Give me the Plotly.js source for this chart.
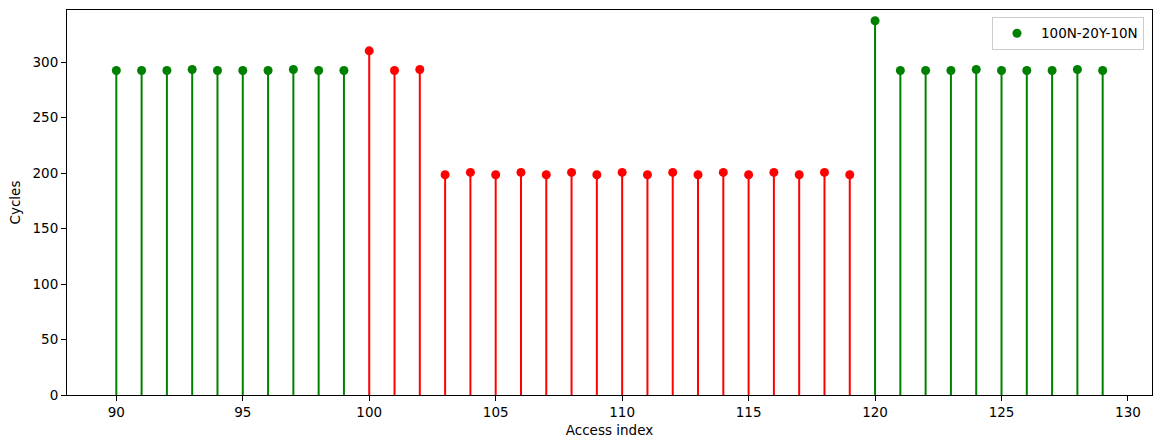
<!DOCTYPE html>
<html>
<head>
<meta charset="utf-8">
<script src="https://cdn.plot.ly/plotly-3.0.1.min.js"></script>
<style>html,body{margin:0;padding:0;background:#fff;}#chart{width:1160px;height:448px;}</style>
</head>
<body>
<div id="chart"></div>
<script>
const accessIndex = [];
for (let i = 90; i <= 129; i++) accessIndex.push(i);

const cycles = [
  292.5, 292.5, 292.5, 293.4, 292.5, 292.5, 292.5, 293.4, 292.5, 292.5,
  310.2, 292.5, 293.4,
  198.5, 200.6, 198.5, 200.6, 198.5, 200.6, 198.5, 200.6, 198.5,
  200.6, 198.5, 200.6, 198.5, 200.6, 198.5, 200.6, 198.5,
  337.3, 292.5, 292.5, 292.5, 293.4, 292.5, 292.5, 292.5, 293.4, 292.5
];

const hitFlags = [
  'N','N','N','N','N','N','N','N','N','N',
  'Y','Y','Y','Y','Y','Y','Y','Y','Y','Y',
  'Y','Y','Y','Y','Y','Y','Y','Y','Y','Y',
  'N','N','N','N','N','N','N','N','N','N'
];

const seriesName = '100N-20Y-10N';
const GREEN = '#008000', RED = '#ff0000';
const colors = hitFlags.map(f => (f === 'Y' ? RED : GREEN));

function stemTrace(flag, color) {
  const xs = [], ys = [];
  accessIndex.forEach((x, i) => {
    if (hitFlags[i] === flag) { xs.push(x, x, null); ys.push(0, cycles[i], null); }
  });
  return {type: 'scatter', mode: 'lines', x: xs, y: ys, line: {color: color, width: 2},
          showlegend: false, hoverinfo: 'skip', connectgaps: false};
}

const heads = {
  type: 'scatter', mode: 'markers', x: accessIndex, y: cycles,
  marker: {color: colors, size: 9}, name: seriesName, showlegend: false
};
const legendEntry = {
  type: 'scatter', mode: 'markers', x: [null], y: [null],
  marker: {color: GREEN, size: 9}, name: seriesName, showlegend: true
};

const font = {family: 'DejaVu Sans', size: 13.5, color: '#000'};
const layout = {
  width: 1160, height: 448,
  margin: {l: 67, r: 8, t: 10, b: 53},
  paper_bgcolor: '#fff', plot_bgcolor: '#fff',
  font: font,
  xaxis: {
    range: [88.05, 130.95], tickvals: [90,95,100,105,110,115,120,125,130],
    ticks: 'outside', ticklen: 5, tickcolor: '#000', showline: true, mirror: true,
    linecolor: '#000', linewidth: 1, showgrid: false, zeroline: false,
    tickfont: font, title: {text: 'Access index', font: font, standoff: 6}
  },
  yaxis: {
    range: [0, 347], tickvals: [0,50,100,150,200,250,300],
    ticks: 'outside', ticklen: 5, tickcolor: '#000', showline: true, mirror: true,
    linecolor: '#000', linewidth: 1, showgrid: false, zeroline: false,
    tickfont: font, title: {text: 'Cycles', font: font, standoff: 8}
  },
  legend: {
    x: 0.9926, y: 0.982, xanchor: 'right', yanchor: 'top',
    bordercolor: '#cccccc', borderwidth: 1, bgcolor: 'rgba(255,255,255,0.8)',
    font: font, itemwidth: 38
  },
  showlegend: true
};

Plotly.newPlot('chart', [stemTrace('N', GREEN), stemTrace('Y', RED), heads, legendEntry], layout,
  {displayModeBar: false, staticPlot: true});
</script>
</body>
</html>
